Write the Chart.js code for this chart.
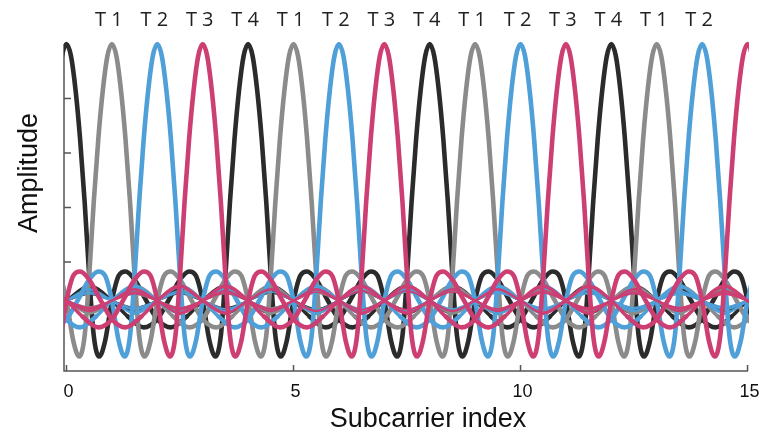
<!doctype html>
<html lang="en">
<head>
<meta charset="UTF-8">
<title>Subcarrier amplitude</title>
<script src="https://cdn.jsdelivr.net/npm/chart.js"></script>
<style>
  html, body { margin: 0; padding: 0; background: #fff; }
  #wrap { width: 760px; height: 437px; }
</style>
</head>
<body>
<div id="wrap"><canvas id="chart"></canvas></div>
<script>
  // subcarrier centres; a few sit just outside the axis so their side lobes still show
  const subcarriers = [-2, -1, 0, 1, 2, 3, 4, 5, 6, 7, 8, 9, 10, 11, 12, 13, 14, 15, 16, 17];
  // colour per transmitter group (index = subcarrier mod 4)
  const groupColors = ['#2b2b2b', '#8b8b8b', '#4f9fd9', '#cd3e73'];

  // one pulse, right half (symmetric), offset from its centre -> amplitude
  const pulseOffsets = [0, 0.1, 0.2, 0.3, 0.4, 0.5, 0.6, 0.72, 0.85, 1.0, 1.15, 1.3, 1.5, 1.75, 2.0, 2.3, 2.65,
    3.0, 3.5, 4.0, 4.5, 5.0, 5.5, 6.0, 6.5, 7.0, 7.5, 8.0, 8.5, 9.0, 9.5, 10.0, 10.5, 11.0, 11.5,
    12.0, 12.5, 13.0, 13.5, 14.0, 14.5, 15.0, 15.5, 16.0, 16.5, 17.0, 17.5];
  const pulseValues = [1.0, 0.955, 0.83, 0.65, 0.42, 0.15, -0.07, -0.147, -0.09, 0.058, 0.15, 0.165, 0.135, 0.06, -0.01, -0.04, 0.0,
    0.058, 0.112, 0.058, 0.012, 0.058, 0.1, 0.058, 0.02, 0.058, 0.094, 0.058, 0.025, 0.058, 0.09, 0.058, 0.028, 0.058, 0.087,
    0.058, 0.031, 0.058, 0.084, 0.058, 0.033, 0.058, 0.082, 0.058, 0.035, 0.058, 0.08];

  const xTicks = [0, 5, 10, 15];
  const yTicks = [0, 0.2, 0.4, 0.6, 0.8];
  const topLabelPos = [1, 2, 3, 4, 5, 6, 7, 8, 9, 10, 11, 12, 13, 14];
  const topLabels = ['T 1', 'T 2', 'T 3', 'T 4', 'T 1', 'T 2', 'T 3', 'T 4', 'T 1', 'T 2', 'T 3', 'T 4', 'T 1', 'T 2'];

  const X_MIN = -0.055, X_MAX = 15.01;

  function pulsePoints(k) {
    const pts = [];
    for (let i = pulseOffsets.length - 1; i > 0; i--) {
      pts.push({ x: k - pulseOffsets[i], y: pulseValues[i] });
    }
    for (let i = 0; i < pulseOffsets.length; i++) {
      pts.push({ x: k + pulseOffsets[i], y: pulseValues[i] });
    }
    // keep just a little past the axis so the curve runs to the edge
    return pts.filter(p => p.x > X_MIN - 0.6 && p.x < X_MAX + 0.6);
  }

  // thinner strokes for the far-off ripples
  function widthFor(d) {
    if (d < 2.8) return 4.6;
    if (d < 4.6) return 3.4;
    if (d < 7) return 2.5;
    return 1.7;
  }

  const datasets = subcarriers.map(k => {
    const g = ((k % 4) + 4) % 4;
    return {
      data: pulsePoints(k),
      borderColor: groupColors[g],
      borderWidth: 4.6,
      pointRadius: 0,
      cubicInterpolationMode: 'monotone',
      borderCapStyle: 'round',
      borderJoinStyle: 'round',
      order: 3 - g,
      clip: { left: 0, right: 1, top: 8, bottom: 4 },
      segment: {
        borderWidth: ctx => widthFor(Math.abs((ctx.p0.parsed.x + ctx.p1.parsed.x) / 2 - k))
      }
    };
  });

  const axisDecor = {
    id: 'axisDecor',
    beforeDatasetsDraw(chart) {
      const { ctx, chartArea: a, scales: { x, y } } = chart;
      ctx.save();
      ctx.strokeStyle = '#555';
      ctx.lineWidth = 1.5;
      ctx.beginPath();
      ctx.moveTo(a.left, a.top);
      ctx.lineTo(a.left, a.bottom);
      ctx.lineTo(a.right, a.bottom);
      yTicks.forEach(v => {
        const py = y.getPixelForValue(v);
        ctx.moveTo(a.left, py);
        ctx.lineTo(a.left + 7, py);
      });
      xTicks.forEach(v => {
        const px = x.getPixelForValue(v);
        ctx.moveTo(px, a.bottom);
        ctx.lineTo(px, a.bottom - 6);
      });
      ctx.stroke();
      ctx.restore();
    },
    afterDraw(chart) {
      const { ctx, chartArea: a, scales: { x } } = chart;
      ctx.save();
      ctx.fillStyle = '#111';
      ctx.textAlign = 'center';
      ctx.textBaseline = 'middle';

      ctx.font = '18px "Liberation Sans", Arial, sans-serif';
      xTicks.forEach(v => ctx.fillText(String(v), x.getPixelForValue(v) + 2, a.bottom + 21));

      ctx.font = '27px "Liberation Sans", Arial, sans-serif';
      ctx.fillText('Subcarrier index', (a.left + a.right) / 2 + 22, 420);

      ctx.save();
      ctx.translate(30, 173);
      ctx.rotate(-Math.PI / 2);
      ctx.fillText('Amplitude', 0, 0);
      ctx.restore();

      ctx.fillStyle = '#222';
      ctx.font = '20px "Open Sans", "Noto Sans", sans-serif';
      topLabelPos.forEach((v, i) => ctx.fillText(topLabels[i], x.getPixelForValue(v) - 3, 20));
      ctx.restore();
    }
  };

  new Chart(document.getElementById('chart'), {
    type: 'line',
    data: { datasets },
    options: {
      responsive: true,
      maintainAspectRatio: false,
      animation: false,
      events: [],
      layout: { padding: { left: 64, right: 12, top: 44, bottom: 66 } },
      plugins: { legend: { display: false }, tooltip: { enabled: false } },
      scales: {
        x: { type: 'linear', min: X_MIN, max: X_MAX, display: false },
        y: { type: 'linear', min: -0.2, max: 1.0, display: false }
      }
    },
    plugins: [axisDecor]
  });
</script>
</body>
</html>
